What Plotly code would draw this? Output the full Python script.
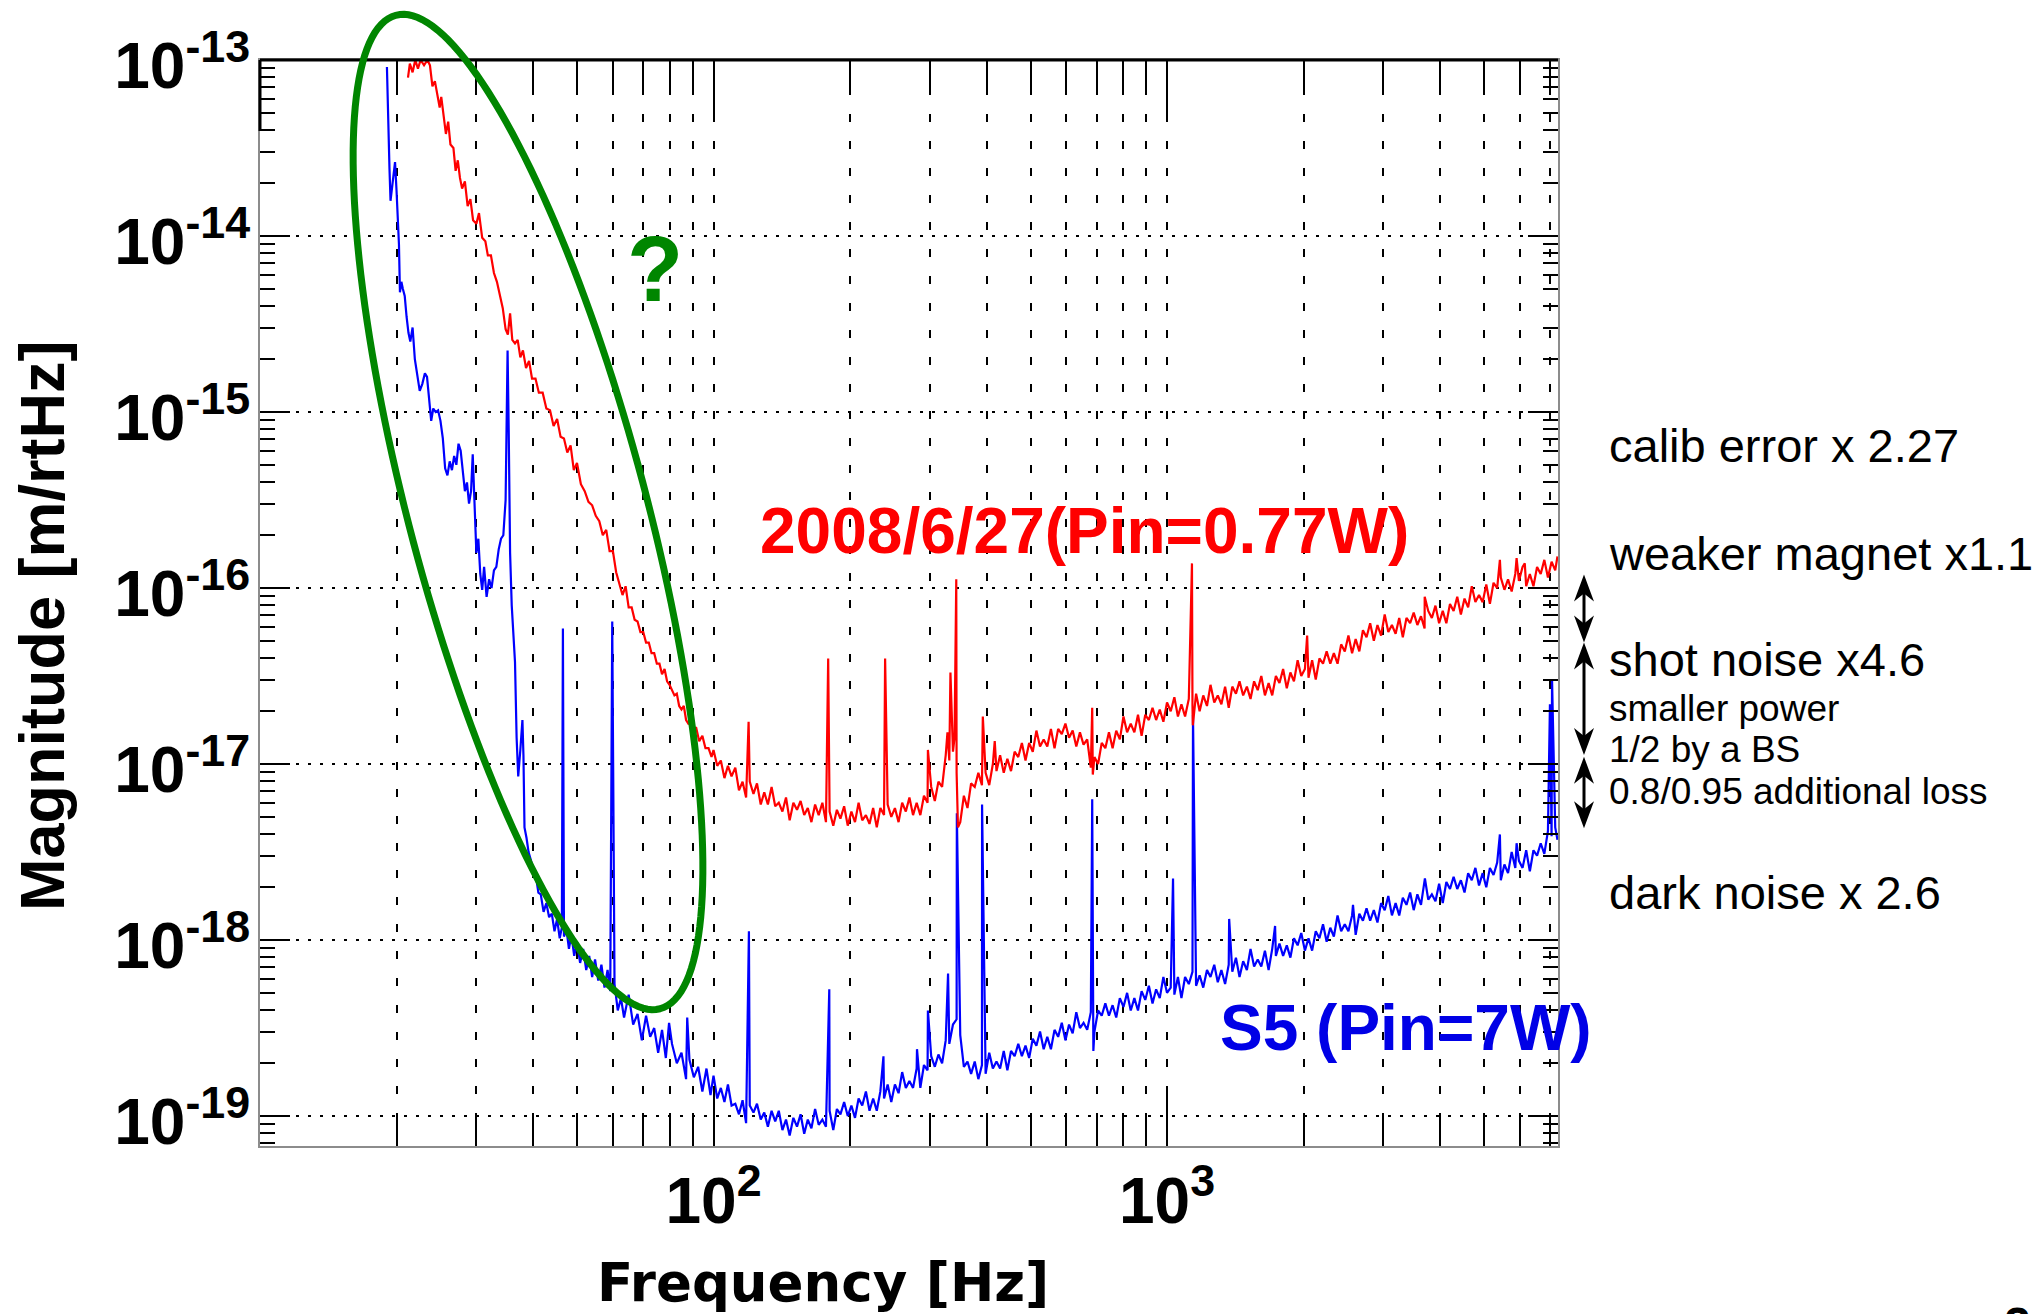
import math
import plotly.graph_objects as go

# ---------------- data ----------------
# frequency [Hz] and log10 of magnitude [m/rtHz]

# low-frequency parts (steep walls)
blue_low = [
    (19.05, -13.04), (19.10, -13.20), (19.20, -13.45), (19.30, -13.62), (19.40, -13.80), (19.55, -13.72),
    (19.70, -13.62), (19.85, -13.58), (20.00, -13.74), (20.15, -13.90), (20.25, -14.05), (20.35, -14.32),
    (20.50, -14.26), (20.65, -14.30), (20.85, -14.34), (21.05, -14.46), (21.25, -14.55), (21.45, -14.60),
    (21.70, -14.52), (21.95, -14.70), (22.20, -14.78), (22.50, -14.88), (22.80, -14.84), (23.10, -14.78),
    (23.35, -14.80), (23.60, -14.92), (23.85, -15.05), (24.10, -14.98), (24.40, -15.00), (24.70, -14.99),
    (25.00, -15.05), (25.30, -15.15), (25.60, -15.32), (25.90, -15.36), (26.20, -15.28), (26.50, -15.33),
    (26.80, -15.25), (27.10, -15.30), (27.40, -15.18), (27.70, -15.22), (28.00, -15.32), (28.30, -15.45),
    (28.60, -15.40), (28.90, -15.52), (29.20, -15.45), (29.45, -15.24), (29.70, -15.50), (30.00, -15.80),
    (30.30, -15.72), (30.60, -15.92), (30.90, -16.01), (31.20, -15.88), (31.60, -16.05), (32.00, -15.95),
    (32.40, -16.00), (32.80, -15.90), (33.20, -15.88), (33.60, -15.78), (34.00, -15.72), (34.40, -15.70),
    (34.80, -15.50), (35.00, -15.00), (35.15, -14.65), (35.35, -15.10), (35.60, -15.80), (35.90, -16.10),
    (36.20, -16.30), (36.50, -16.42), (36.80, -16.85), (37.10, -17.07), (37.50, -16.92), (37.90, -16.75),
    (38.10, -16.95), (38.30, -17.36), (38.70, -17.42), (39.10, -17.50), (39.60, -17.55), (40.10, -17.62),
    (40.60, -17.64), (41.10, -17.73), (41.60, -17.74), (42.20, -17.84), (42.80, -17.79), (43.40, -17.87),
    (44.00, -17.85), (44.60, -17.95), (45.20, -17.88), (45.80, -17.99), (46.30, -17.93), (46.55, -16.23),
    (46.80, -17.98), (47.40, -17.94), (48.00, -18.05), (48.60, -17.97), (49.30, -18.09), (50.00, -18.01),
    (50.80, -18.13), (51.60, -18.05), (52.40, -18.17), (53.20, -18.09), (54.00, -18.21), (54.80, -18.11),
    (55.70, -18.23), (56.60, -18.14), (57.50, -18.27), (58.40, -18.17), (59.20, -18.29), (59.80, -16.19),
    (60.50, -18.25), (61.50, -18.40), (62.50, -18.33), (63.50, -18.44), (65.00, -18.31), (66.50, -18.48),
    (68.00, -18.42), (69.50, -18.57), (71.00, -18.43), (72.50, -18.55), (74.00, -18.50), (75.50, -18.64),
    (77.00, -18.51), (78.50, -18.67), (79.80, -18.47), (81.00, -18.59), (83.00, -18.70), (85.00, -18.64),
    (87.00, -18.79), (87.50, -18.44), (88.50, -18.68), (90.50, -18.78), (92.50, -18.72), (94.50, -18.86),
    (96.50, -18.73), (98.50, -18.88),
]

red_low = [
    (21.2, -13.10), (21.4, -13.02), (21.7, -13.07), (22.0, -13.00), (22.3, -13.05), (22.6, -13.00),
    (23.0, -13.03), (23.4, -13.00), (23.7, -13.03), (24.0, -13.15), (24.3, -13.12), (24.6, -13.20),
    (24.9, -13.27), (25.1, -13.21), (25.4, -13.31), (25.7, -13.42), (26.0, -13.35), (26.3, -13.48),
    (26.7, -13.50), (27.0, -13.63), (27.3, -13.57), (27.6, -13.67), (27.9, -13.73), (28.3, -13.69),
    (28.7, -13.83), (29.1, -13.79), (29.5, -13.91), (30.0, -13.93), (30.4, -13.87), (30.9, -14.01),
    (31.4, -14.03), (31.8, -14.11), (32.3, -14.11), (32.8, -14.21), (33.3, -14.26), (33.8, -14.34),
    (34.3, -14.41), (34.8, -14.53), (35.2, -14.56), (35.6, -14.44), (36.0, -14.59), (36.5, -14.61),
    (37.0, -14.59), (37.5, -14.69), (38.0, -14.65), (38.6, -14.75), (39.2, -14.71), (39.8, -14.81),
    (40.5, -14.81), (41.2, -14.89), (42.0, -14.89), (42.8, -14.98), (43.6, -14.99), (44.4, -15.08),
    (45.2, -15.04), (46.0, -15.14), (46.8, -15.15), (47.6, -15.23), (48.4, -15.19), (49.2, -15.33),
    (50.0, -15.29), (51.0, -15.41), (52.0, -15.45), (53.0, -15.51), (54.0, -15.53), (55.0, -15.59),
    (56.0, -15.62), (57.0, -15.70), (58.0, -15.67), (59.0, -15.79), (60.0, -15.79), (61.0, -15.91),
    (62.0, -15.97), (63.0, -16.04), (64.0, -15.99), (65.0, -16.11), (66.0, -16.11), (67.0, -16.18),
    (68.0, -16.19), (69.0, -16.25), (70.0, -16.25), (71.0, -16.31), (72.0, -16.31), (73.0, -16.37),
    (74.0, -16.37), (75.0, -16.43), (76.0, -16.43), (77.0, -16.49), (78.0, -16.46), (79.0, -16.53),
    (80.0, -16.55), (81.0, -16.58), (82.0, -16.61), (83.0, -16.60), (84.0, -16.67), (85.0, -16.69),
    (86.0, -16.67), (87.0, -16.75), (88.0, -16.77), (89.0, -16.76), (90.0, -16.83), (91.5, -16.79),
    (93.0, -16.87), (94.5, -16.84), (96.0, -16.91), (97.5, -16.91), (99.0, -16.96),
]

# noise floor, read on a common frequency grid (100 Hz .. 7.26 kHz)
floor_freq = [
    100.0, 101.9, 103.8, 105.7, 107.6, 109.6, 111.7, 113.8, 115.9, 118.0,
    120.2, 122.5, 124.7, 127.1, 129.4, 131.8, 134.3, 136.8, 139.3, 141.9,
    144.5, 147.2, 150.0, 152.8, 155.6, 158.5, 161.4, 164.4, 167.5, 170.6,
    173.8, 177.0, 180.3, 183.7, 187.1, 190.5, 194.1, 197.7, 201.4, 205.1,
    208.9, 212.8, 216.8, 220.8, 224.9, 229.1, 233.3, 237.7, 242.1, 246.6,
    251.2, 255.9, 260.6, 265.5, 270.4, 275.4, 280.5, 285.8, 291.1, 296.5,
    302.0, 307.6, 313.3, 319.2, 325.1, 331.1, 337.3, 343.6, 350.0, 356.5,
    363.1, 369.8, 376.7, 383.7, 390.8, 398.1, 405.5, 413.0, 420.7, 428.5,
    436.5, 444.6, 452.9, 461.3, 469.9, 478.6, 487.5, 496.6, 505.8, 515.2,
    524.8, 534.6, 544.5, 554.6, 564.9, 575.4, 586.1, 597.0, 608.1, 619.4,
    630.9, 642.7, 654.6, 666.8, 679.2, 691.8, 704.7, 717.8, 731.1, 744.7,
    758.6, 772.7, 787.0, 801.7, 816.6, 831.8, 847.2, 863.0, 879.0, 895.4,
    912.0, 929.0, 946.2, 963.8, 981.7, 1000, 1019, 1038, 1057, 1076,
    1096, 1117, 1138, 1159, 1180, 1202, 1225, 1247, 1271, 1294,
    1318, 1343, 1368, 1393, 1419, 1445, 1472, 1500, 1528, 1556,
    1585, 1614, 1644, 1675, 1706, 1738, 1770, 1803, 1837, 1871,
    1905, 1941, 1977, 2014, 2051, 2089, 2128, 2168, 2208, 2249,
    2291, 2333, 2377, 2421, 2466, 2512, 2559, 2606, 2655, 2704,
    2754, 2805, 2858, 2911, 2965, 3020, 3076, 3133, 3192, 3251,
    3311, 3373, 3436, 3499, 3565, 3631, 3698, 3767, 3837, 3908,
    3981, 4055, 4130, 4207, 4285, 4365, 4446, 4529, 4613, 4699,
    4786, 4875, 4966, 5058, 5152, 5248, 5346, 5445, 5546, 5649,
    5754, 5861, 5970, 6081, 6194, 6310, 6427, 6546, 6668, 6792,
    6918, 7047, 7178, 7260,
]

red_floor = [
    -16.92, -17.01, -16.98, -17.08, -17.01, -17.07, -17.02, -17.15, -17.10, -17.19,
    -17.10, -17.17, -17.11, -17.23, -17.16, -17.23, -17.13, -17.24, -17.22, -17.27,
    -17.19, -17.32, -17.22, -17.26, -17.21, -17.29, -17.25, -17.33, -17.23, -17.29,
    -17.22, -17.33, -17.27, -17.35, -17.26, -17.31, -17.24, -17.35, -17.27, -17.33,
    -17.22, -17.32, -17.29, -17.34, -17.25, -17.36, -17.25, -17.29, -17.23, -17.30,
    -17.25, -17.33, -17.22, -17.27, -17.19, -17.29, -17.22, -17.29, -17.18, -17.22,
    -17.13, -17.21, -17.10, -17.13, -16.95, -16.98, -16.93, -17.05, -17.33, -17.18,
    -17.25, -17.11, -17.13, -17.05, -17.12, -17.05, -17.12, -17.00, -17.04, -16.95,
    -17.05, -16.97, -17.04, -16.93, -16.96, -16.88, -16.98, -16.88, -16.93, -16.81,
    -16.90, -16.86, -16.90, -16.80, -16.91, -16.80, -16.83, -16.77, -16.85, -16.81,
    -16.90, -16.82, -16.89, -16.86, -17.02, -16.96, -17.00, -16.88, -16.91, -16.82,
    -16.91, -16.81, -16.86, -16.73, -16.82, -16.77, -16.82, -16.72, -16.84, -16.72,
    -16.75, -16.68, -16.75, -16.69, -16.76, -16.65, -16.70, -16.62, -16.73, -16.66,
    -16.73, -16.63, -16.67, -16.60, -16.70, -16.61, -16.67, -16.55, -16.65, -16.61,
    -16.66, -16.56, -16.68, -16.56, -16.60, -16.53, -16.61, -16.56, -16.63, -16.53,
    -16.58, -16.50, -16.61, -16.54, -16.61, -16.50, -16.54, -16.46, -16.57, -16.48,
    -16.53, -16.41, -16.50, -16.46, -16.51, -16.41, -16.52, -16.40, -16.43, -16.36,
    -16.43, -16.37, -16.43, -16.32, -16.36, -16.27, -16.37, -16.29, -16.36, -16.24,
    -16.28, -16.20, -16.30, -16.21, -16.27, -16.15, -16.25, -16.21, -16.26, -16.17,
    -16.28, -16.17, -16.20, -16.14, -16.21, -16.16, -16.23, -16.13, -16.17, -16.10,
    -16.20, -16.13, -16.20, -16.09, -16.13, -16.05, -16.15, -16.06, -16.11, -15.99,
    -16.08, -16.04, -16.08, -15.98, -16.09, -15.97, -16.00, -15.94, -16.01, -15.95,
    -16.02, -15.92, -15.96, -15.88, -15.99, -15.92, -15.99, -15.88, -15.92, -15.84,
    -15.94, -15.85, -15.90, -15.82,
]

blue_floor = [
    -18.77, -18.90, -18.84, -18.92, -18.82, -18.94, -18.93, -18.99, -18.91, -19.04,
    -18.94, -18.98, -18.93, -19.02, -18.98, -19.06, -18.97, -19.03, -18.97, -19.08,
    -19.02, -19.11, -19.01, -19.06, -18.99, -19.10, -19.02, -19.07, -18.96, -19.05,
    -19.02, -19.06, -18.97, -19.08, -18.96, -18.99, -18.92, -19.00, -18.94, -19.01,
    -18.90, -18.94, -18.86, -18.97, -18.90, -18.97, -18.86, -18.90, -18.82, -18.92,
    -18.82, -18.87, -18.75, -18.84, -18.80, -18.84, -18.73, -18.84, -18.71, -18.74,
    -18.66, -18.72, -18.65, -18.70, -18.57, -18.59, -18.48, -18.45, -18.54, -18.72,
    -18.69, -18.76, -18.69, -18.79, -18.71, -18.76, -18.64, -18.73, -18.69, -18.73,
    -18.63, -18.74, -18.63, -18.66, -18.59, -18.66, -18.60, -18.67, -18.56, -18.60,
    -18.52, -18.62, -18.55, -18.62, -18.51, -18.55, -18.47, -18.57, -18.48, -18.53,
    -18.41, -18.50, -18.47, -18.51, -18.41, -18.52, -18.40, -18.43, -18.36, -18.43,
    -18.37, -18.44, -18.33, -18.38, -18.30, -18.40, -18.33, -18.40, -18.29, -18.34,
    -18.26, -18.36, -18.28, -18.33, -18.21, -18.30, -18.27, -18.31, -18.21, -18.33,
    -18.21, -18.25, -18.18, -18.26, -18.20, -18.27, -18.17, -18.21, -18.14, -18.24,
    -18.17, -18.25, -18.14, -18.18, -18.10, -18.21, -18.12, -18.17, -18.05, -18.15,
    -18.11, -18.15, -18.06, -18.17, -18.05, -18.09, -18.02, -18.09, -18.03, -18.10,
    -17.99, -18.03, -17.96, -18.06, -17.99, -18.06, -17.95, -17.99, -17.91, -18.01,
    -17.93, -17.98, -17.86, -17.95, -17.91, -17.95, -17.86, -17.97, -17.85, -17.89,
    -17.82, -17.89, -17.83, -17.90, -17.79, -17.83, -17.75, -17.86, -17.79, -17.86,
    -17.76, -17.80, -17.73, -17.83, -17.74, -17.80, -17.68, -17.77, -17.74, -17.78,
    -17.68, -17.79, -17.67, -17.71, -17.64, -17.71, -17.66, -17.73, -17.62, -17.66,
    -17.59, -17.69, -17.62, -17.70, -17.59, -17.63, -17.56, -17.66, -17.57, -17.62,
    -17.50, -17.59, -17.55, -17.59, -17.49, -17.61, -17.49, -17.52, -17.45, -17.51,
    -17.38, -17.41, -17.36, -17.43,
]

# narrow lines (spikes / dips) on top of the floors: (frequency, log10 magnitude)
red_spikes = [
    (119.5, -16.76), (179.0, -16.40), (239.0, -16.40), (297.0, -16.92), (328.0, -16.82),
    (333.0, -16.48), (340.0, -16.85), (343.0, -15.95), (346.0, -17.36), (392.5, -16.73),
    (417.0, -16.87), (684.0, -16.68), (686.0, -17.06), (1135, -15.86), (1140, -16.78),
    (2037, -16.27), (3700, -16.05), (5420, -15.84), (5900, -15.83), (6150, -15.86),
]
blue_spikes = [
    (119.7, -17.95), (180.0, -18.28), (237.0, -18.66), (281.0, -18.62), (297.0, -18.40),
    (329.0, -18.19), (344.0, -17.28), (391.0, -17.23), (684.0, -17.20), (688.0, -18.63),
    (1031, -17.65), (1141, -16.72), (1371, -17.88), (1731, -17.92), (2571, -17.80),
    (3704, -17.65), (5420, -17.40), (5900, -17.45), (6988, -16.66), (7063, -16.52),
    (7120, -17.05),
]

y_decades = [-19, -18, -17, -16, -15, -14, -13]
x_major = [100, 1000]
x_major_text = ["10<sup>2</sup>", "10<sup>3</sup>"]
x_minor = [20, 30, 40, 50, 60, 70, 80, 90, 200, 300, 400, 500, 600, 700, 800, 900,
           2000, 3000, 4000, 5000, 6000, 7000]

red_label = "2008/6/27(Pin=0.77W)"
blue_label = "S5 (Pin=7W)"
note_big = ["calib error x 2.27", "weaker magnet x1.1", "shot noise x4.6", "dark noise x 2.6"]
note_small = ["smaller power", "1/2 by a BS", "0.8/0.95 additional loss"]

# ---------------- assemble series ----------------


def series(low, freqs, floor, spikes):
    pts = list(low) + list(zip(freqs, floor)) + list(spikes)
    pts.sort(key=lambda p: p[0])
    return [p[0] for p in pts], [10.0 ** p[1] for p in pts]


blue_x, blue_y = series(blue_low, floor_freq, blue_floor, blue_spikes)
red_x, red_y = series(red_low, floor_freq, red_floor, red_spikes)

# ---------------- geometry ----------------
W, H = 2042, 1314
L, R, T, B = 260, 1558, 60, 1146
X_MAX_HZ = 7280


def px(x):
    return (x - L) / (R - L)


def py(y):
    return (B - y) / (B - T)


RED = "#ff0000"
BLUE = "#0000ff"
GREEN = "#008600"
SANS = "Liberation Sans"

fig = go.Figure()
fig.add_trace(go.Scatter(x=blue_x, y=blue_y, mode="lines", line=dict(color=BLUE, width=2.2),
                         showlegend=False, hoverinfo="skip"))
fig.add_trace(go.Scatter(x=red_x, y=red_y, mode="lines", line=dict(color=RED, width=2.2),
                         showlegend=False, hoverinfo="skip"))

y_minor = [m * 10.0 ** e for e in range(-20, -12) for m in range(2, 10)]

fig.update_layout(
    width=W, height=H,
    margin=dict(l=L, r=W - R, t=T, b=H - B, pad=0),
    paper_bgcolor="white", plot_bgcolor="white",
    showlegend=False,
    font=dict(family=SANS, color="black"),
    xaxis=dict(
        type="log", range=[1, math.log10(X_MAX_HZ)], automargin=False,
        tickmode="array", tickvals=x_major, ticktext=x_major_text,
        ticks="inside", ticklen=60, tickwidth=2, tickcolor="black",
        tickfont=dict(family=SANS, size=64, color="black", weight="bold"),
        ticklabelstandoff=-2,
        showgrid=True, gridcolor="black", gridwidth=2, griddash="8px,19px",
        showline=True, linecolor="#8c8c8c", linewidth=2, mirror="allticks", zeroline=False,
        minor=dict(tickmode="array", tickvals=x_minor, ticks="inside", ticklen=29,
                   tickwidth=2, tickcolor="black", showgrid=True, gridcolor="black",
                   gridwidth=2, griddash="8px,19px"),
    ),
    yaxis=dict(
        type="log", range=[-19.17, -13], automargin=False,
        tickmode="array", tickvals=[10.0 ** e for e in y_decades],
        ticktext=[f"10<sup>{e}</sup>" for e in y_decades],
        ticks="inside", ticklen=30, tickwidth=2, tickcolor="black",
        tickfont=dict(family=SANS, size=64, color="black", weight="bold"),
        ticklabelstandoff=-5, ticklabelshift=6,
        showgrid=True, gridcolor="black", gridwidth=2, griddash="3px,9px",
        showline=True, linecolor="#8c8c8c", linewidth=2, mirror="allticks", zeroline=False,
        minor=dict(tickmode="array", tickvals=y_minor, ticks="inside", ticklen=15,
                   tickwidth=2, tickcolor="black", showgrid=False),
    ),
)

shapes = []
# black top frame line and the black stub at the top of the left axis
shapes.append(dict(type="line", xref="paper", yref="paper", x0=0, x1=1, y0=1, y1=1,
                   line=dict(color="black", width=3)))
shapes.append(dict(type="line", xref="paper", yref="paper", x0=0, x1=0, y0=py(60), y1=py(131),
                   line=dict(color="black", width=3)))

# green ellipse
cx, cy, ea, eb, th = 528.0, 512.0, 514.0, 118.5, math.radians(75.1)
pts = []
for i in range(181):
    t = 2 * math.pi * i / 180
    ex = cx + ea * math.cos(t) * math.cos(th) - eb * math.sin(t) * math.sin(th)
    ey = cy + ea * math.cos(t) * math.sin(th) + eb * math.sin(t) * math.cos(th)
    pts.append(f"{px(ex):.5f},{py(ey):.5f}")
shapes.append(dict(type="path", xref="paper", yref="paper", path="M " + " L ".join(pts) + " Z",
                   line=dict(color=GREEN, width=7), layer="above"))

# double-headed arrows on the right
AX = 1584


def head(xc, ytip, down):
    s = -1 if down else 1
    p = [(xc, ytip), (xc + 10, ytip + s * 27), (xc, ytip + s * 19), (xc - 10, ytip + s * 27)]
    return "M " + " L ".join(f"{px(a):.5f},{py(b):.5f}" for a, b in p) + " Z"


for y1, y2 in [(574.6, 642.5), (642.5, 755.0), (756.8, 828.2)]:
    shapes.append(dict(type="line", xref="paper", yref="paper", x0=px(AX), x1=px(AX),
                       y0=py(y1 + 10), y1=py(y2 - 10), line=dict(color="black", width=3)))
    shapes.append(dict(type="path", xref="paper", yref="paper", path=head(AX, y1, False),
                       fillcolor="black", line=dict(width=0)))
    shapes.append(dict(type="path", xref="paper", yref="paper", path=head(AX, y2, True),
                       fillcolor="black", line=dict(width=0)))

fig.update_layout(shapes=shapes)

ann = []
ann.append(dict(text="Frequency [Hz]", x=px(823), y=py(1282), xref="paper", yref="paper",
                showarrow=False, xanchor="center", yanchor="middle",
                font=dict(family="DejaVu Sans", size=53, color="black", weight="bold")))
ann.append(dict(text="Magnitude [m/rtHz]", x=px(42), y=py(626), xref="paper", yref="paper",
                showarrow=False, xanchor="center", yanchor="middle", textangle=-90,
                font=dict(family=SANS, size=63, color="black", weight="bold")))
ann.append(dict(text=red_label, x=px(1084), y=py(531), xref="paper", yref="paper",
                showarrow=False, xanchor="center", yanchor="middle",
                font=dict(family=SANS, size=64, color=RED, weight="bold")))
ann.append(dict(text=blue_label, x=px(1406), y=py(1028), xref="paper", yref="paper",
                showarrow=False, xanchor="center", yanchor="middle",
                font=dict(family=SANS, size=64, color="#0000e6", weight="bold")))
ann.append(dict(text="?", x=px(655), y=py(269), xref="paper", yref="paper",
                showarrow=False, xanchor="center", yanchor="middle",
                font=dict(family=SANS, size=92, color=GREEN, weight="bold")))
for txt, yc in zip(note_big, [445, 553, 660, 892.5]):
    ann.append(dict(text=txt, x=px(1607), y=py(yc), xref="paper", yref="paper",
                    showarrow=False, xanchor="left", yanchor="middle",
                    font=dict(family=SANS, size=47, color="black")))
for txt, yc in zip(note_small, [708.6, 749, 791]):
    ann.append(dict(text=txt, x=px(1607), y=py(yc), xref="paper", yref="paper",
                    showarrow=False, xanchor="left", yanchor="middle",
                    font=dict(family=SANS, size=37, color="black")))
# page number peeking in at the bottom-right corner
ann.append(dict(text="2", x=px(2018), y=py(1296), xref="paper", yref="paper",
                showarrow=False, xanchor="center", yanchor="top",
                font=dict(family=SANS, size=48, color="black", weight="bold")))
fig.update_layout(annotations=ann)

fig.write_html("out.html")
